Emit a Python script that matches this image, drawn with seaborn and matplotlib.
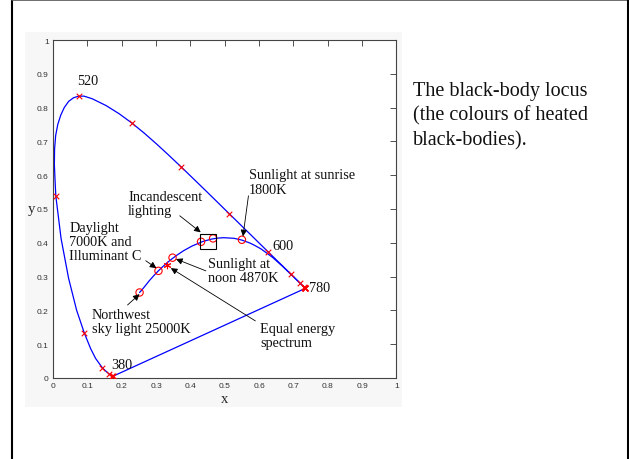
import numpy as np
import pandas as pd
import matplotlib
matplotlib.use("Agg")
import matplotlib.pyplot as plt
from matplotlib.patches import Rectangle
from matplotlib.lines import Line2D
import seaborn as sns

# ---------------- data ----------------
# CIE 1931 spectral locus (wavelength nm, x, y)
locus_wl = [380, 390, 400, 410, 420, 430, 440, 450, 460, 470, 475, 480, 485, 490, 495,
            500, 502, 504, 506, 508, 510, 512, 514, 516, 518, 520, 522, 525, 530, 535,
            540, 545, 550, 555, 560, 565, 570, 575, 580, 585, 590, 595, 600, 610, 620,
            630, 640, 650, 660, 680, 700, 720, 740, 760, 780]
locus_x = [0.1741, 0.1738, 0.1733, 0.1726, 0.1714, 0.1689, 0.1644, 0.1566, 0.1440, 0.1241,
           0.1096, 0.0913, 0.0687, 0.0454, 0.0235, 0.0082, 0.0059, 0.0040, 0.0046, 0.0077,
           0.0139, 0.0227, 0.0327, 0.0456, 0.0596, 0.0743, 0.0900, 0.1142, 0.1547, 0.1929,
           0.2296, 0.2658, 0.3016, 0.3373, 0.3731, 0.4087, 0.4441, 0.4788, 0.5125, 0.5448,
           0.5752, 0.6029, 0.6270, 0.6658, 0.6915, 0.7079, 0.7190, 0.7260, 0.7300, 0.7334,
           0.7347, 0.7347, 0.7347, 0.7347, 0.7347]
locus_y = [0.0050, 0.0049, 0.0048, 0.0048, 0.0051, 0.0069, 0.0109, 0.0177, 0.0297, 0.0578,
           0.0868, 0.1327, 0.2007, 0.2950, 0.4127, 0.5384, 0.5860, 0.6320, 0.6780, 0.7170,
           0.7502, 0.7780, 0.8000, 0.8185, 0.8290, 0.8338, 0.8340, 0.8262, 0.8059, 0.7816,
           0.7543, 0.7243, 0.6923, 0.6589, 0.6245, 0.5896, 0.5547, 0.5202, 0.4866, 0.4544,
           0.4242, 0.3965, 0.3725, 0.3340, 0.3083, 0.2920, 0.2809, 0.2740, 0.2700, 0.2666,
           0.2653, 0.2653, 0.2653, 0.2653, 0.2653]
marker_wl = [380, 400, 420, 440, 460, 480, 500, 520, 540, 560, 580, 600, 620, 640, 660,
             680, 700, 720, 740, 760, 780]

# purple line (780 nm -> 380 nm)
purple_x = [0.7347, 0.1741]
purple_y = [0.2653, 0.0050]

# black-body (Planckian) locus
bb_x = [0.2520, 0.2565, 0.2640, 0.2807, 0.2952, 0.3064, 0.3135, 0.3221, 0.3325, 0.3451,
        0.3608, 0.3805, 0.4053, 0.4369, 0.4599, 0.4770, 0.4970, 0.5267, 0.5496, 0.5735,
        0.5857, 0.6053, 0.6251, 0.6400, 0.6528, 0.6700, 0.6867, 0.7010, 0.7145, 0.7250,
        0.7320, 0.7347]
bb_y = [0.2530, 0.2580, 0.2670, 0.2883, 0.3048, 0.3166, 0.3236, 0.3318, 0.3411, 0.3516,
        0.3635, 0.3768, 0.3907, 0.4041, 0.4106, 0.4137, 0.4151, 0.4133, 0.4081, 0.3992,
        0.3931, 0.3821, 0.3674, 0.3563, 0.3444, 0.3290, 0.3124, 0.2985, 0.2850, 0.2748,
        0.2680, 0.2653]

# illuminants marked with circles
illum_x = [0.252, 0.307, 0.348, 0.431, 0.466, 0.550]
illum_y = [0.253, 0.317, 0.356, 0.403, 0.413, 0.409]
# equal energy point
ee_x = [0.333]
ee_y = [0.334]

# incandescent box (x0, y0, w, h)
box = (0.428, 0.383, 0.047, 0.043)

wl_labels = ["520", "600", "780", "380"]
wl_label_x = [0.070, 0.639, 0.744, 0.170]
wl_label_y = [0.879, 0.393, 0.268, 0.041]

notes = ["Sunlight at sunrise\n1800K", "Incandescent\nlighting",
         "Daylight\n7000K and\nIlluminant C", "Sunlight at\nnoon 4870K",
         "Equal energy\nspectrum", "Northwest\nsky light 25000K"]
note_x = [0.571, 0.219, 0.048, 0.450, 0.604, 0.113]
note_y = [0.580, 0.517, 0.404, 0.317, 0.126, 0.167]
arrow_from = [(0.569, 0.539), (0.369, 0.480), (0.270, 0.347), (0.445, 0.317),
              (0.589, 0.169), (0.217, 0.216)]
arrow_to = [(0.553, 0.419), (0.430, 0.431), (0.301, 0.325), (0.358, 0.352),
            (0.343, 0.325), (0.252, 0.248)]

tick_vals = [0, 0.1, 0.2, 0.3, 0.4, 0.5, 0.6, 0.7, 0.8, 0.9, 1]
tick_labels = ["0", "0.1", "0.2", "0.3", "0.4", "0.5", "0.6", "0.7", "0.8", "0.9", "1"]

side_text = "The black-body locus\n(the colours of heated\nblack-bodies)."

# ---------------- plotting ----------------
sns.set_theme(style="white")
plt.rcParams["font.family"] = ["Liberation Serif", "DejaVu Serif"]

W, H = 629, 460
fig = plt.figure(figsize=(W / 100, H / 100), dpi=100)
fig.patch.set_facecolor("white")

# faint grey figure panel behind the chart
fig.add_artist(Rectangle((25 / W, (H - 408) / H), (402 - 25) / W, (408 - 33) / H,
                         transform=fig.transFigure, facecolor="#f7f7f7",
                         edgecolor="none", zorder=-5))
# slide frame
fig.add_artist(Line2D([12 / W, 12 / W], [0, 1], transform=fig.transFigure,
                      color="black", lw=1.5))
fig.add_artist(Line2D([12 / W, 627 / W], [1 - 1 / H, 1 - 1 / H], transform=fig.transFigure,
                      color="#555555", lw=1.2))
fig.add_artist(Line2D([627.5 / W, 627.5 / W], [0, 1], transform=fig.transFigure,
                      color="black", lw=2.2))

ax = fig.add_axes([53 / W, (H - 379) / H, (396.5 - 53) / W, (379 - 41) / H])
ax.set_facecolor("white")

loc = pd.DataFrame({"wl": locus_wl, "x": locus_x, "y": locus_y})
sns.lineplot(data=loc, x="x", y="y", sort=False, estimator=None, color="#0000ff",
             lw=0.9, ax=ax)
sns.lineplot(x=purple_x, y=purple_y, sort=False, estimator=None, color="#0000ff",
             lw=0.9, ax=ax)
sns.lineplot(x=bb_x, y=bb_y, sort=False, estimator=None, color="#0000ff", lw=0.9, ax=ax)

mk = loc[loc["wl"].isin(marker_wl)]
sns.scatterplot(data=mk, x="x", y="y", marker="x", color="red", s=16, linewidth=0.8,
                ax=ax, zorder=3)
sns.scatterplot(x=illum_x, y=illum_y, marker="o", s=28, fc="none", ec="red",
                linewidth=0.8, ax=ax, zorder=3)
sns.scatterplot(x=ee_x, y=ee_y, marker=(6, 2, 0), color="red", s=22, linewidth=0.8,
                ax=ax, zorder=3)

ax.add_patch(Rectangle((box[0], box[1]), box[2], box[3], fill=False,
                       edgecolor="black", lw=0.8, zorder=4))

for t, x, y in zip(wl_labels, wl_label_x, wl_label_y):
    ax.text(x, y, t, ha="left", va="center", fontsize=10.3, color="#111111")
for t, x, y in zip(notes, note_x, note_y):
    ax.text(x, y, t, ha="left", va="center", fontsize=10.3, color="#111111",
            linespacing=1.12)
for a, b in zip(arrow_from, arrow_to):
    ax.annotate("", xy=b, xytext=a,
                arrowprops=dict(arrowstyle="-|>", color="black", lw=0.6,
                                mutation_scale=9.5, shrinkA=0, shrinkB=0))

ax.set_xlim(0, 1)
ax.set_ylim(0, 1)
ax.set_xticks(tick_vals)
ax.set_yticks(tick_vals)
ax.set_xticklabels(tick_labels, family="Liberation Sans", fontsize=6, color="#333333")
ax.set_yticklabels(tick_labels, family="Liberation Sans", fontsize=6, color="#333333")
ax.tick_params(direction="in", top=True, right=True, length=4, width=0.6,
               color="#333333", pad=3)
for s in ax.spines.values():
    s.set_color("#444444")
    s.set_linewidth(0.8)
ax.set_xlabel("x", fontsize=10.5, labelpad=2)
ax.set_ylabel("y", fontsize=10.5, rotation=0, labelpad=4, va="center")

fig.text(413 / W, 1 - 116 / H, side_text, ha="left", va="center", fontsize=14.5,
         color="#111111", linespacing=1.38)

fig.savefig("out.png", dpi=100)
